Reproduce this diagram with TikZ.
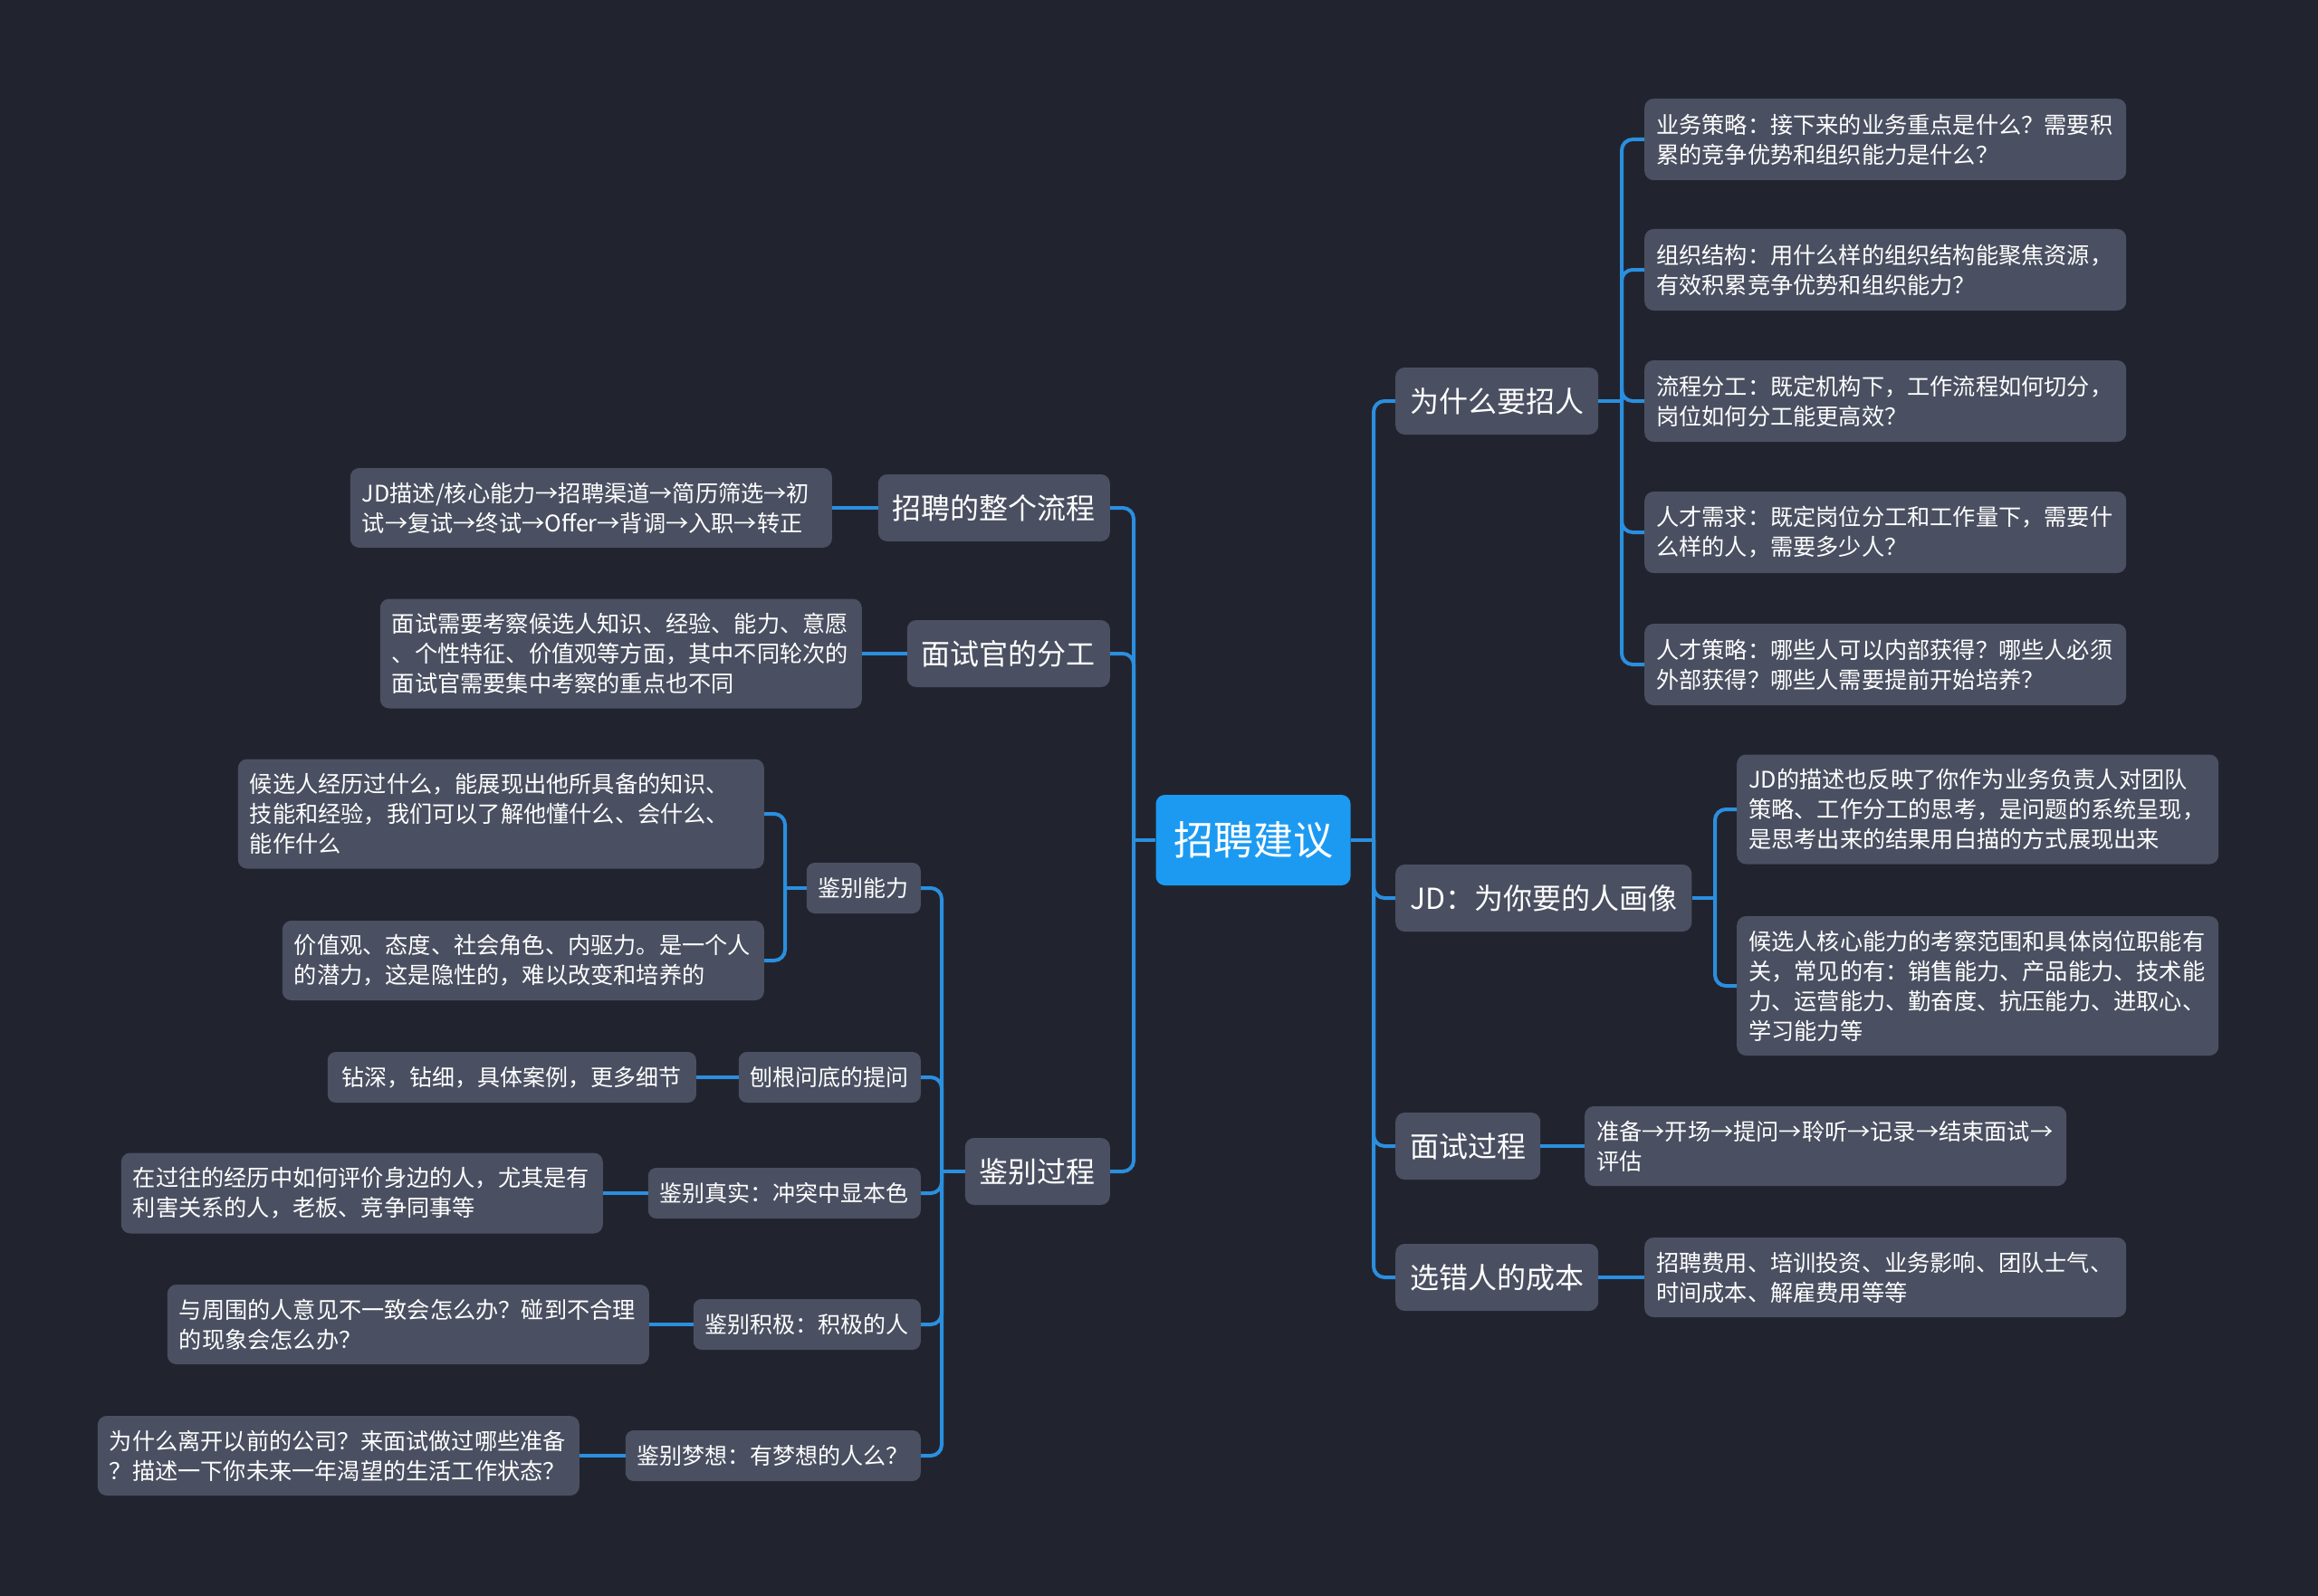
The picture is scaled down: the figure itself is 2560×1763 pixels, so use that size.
\documentclass[tikz,border=0pt]{standalone}
\usepackage{fontspec}
\setmainfont{Noto Sans CJK SC}
\usepackage{xcolor}

\definecolor{bgdark}{HTML}{21242F}
\definecolor{boxgray}{HTML}{4A5061}
\definecolor{linkblue}{HTML}{2B8FDF}
\definecolor{rootblue}{HTML}{1C9AF2}

\tikzset{
	rootbox/.style={fill=rootblue,text=white,rounded corners=10,minimum width=215,minimum height=100,inner ysep=0,font=\fontsize{44}{50}\selectfont},
	topic/.style={fill=boxgray,text=white,rounded corners=10,minimum height=74,inner xsep=16,inner ysep=0,font=\fontsize{32}{38}\selectfont},
	sub/.style={fill=boxgray,text=white,rounded corners=9,minimum height=56,inner xsep=13,inner ysep=0,font=\fontsize{25}{31}\selectfont},
	leaf/.style={fill=boxgray,text=white,rounded corners=10,inner xsep=13,inner ysep=0,align=left,text width=506,font=\fontsize{25.2}{33}\selectfont},
	link/.style={draw=linkblue,line width=4,rounded corners=12}
}

\begin{document}
\begin{tikzpicture}[x=1pt,y=-1pt]
	\fill[bgdark] (0,0) rectangle (2560,1763);
	
	\node[rootbox] (root) at (1384,928) {招聘建议};
	
	% right side
	\node[topic,anchor=west] (why) at (1541,443) {为什么要招人};
	\node[topic,anchor=west] (jd) at (1541,992) {JD：为你要的人画像};
	\node[topic,anchor=west] (proc) at (1541,1266) {面试过程};
	\node[topic,anchor=west] (cost) at (1541,1411) {选错人的成本};
	
	\node[leaf,anchor=west,minimum height=90] (why1) at (1816,154) {业务策略：接下来的业务重点是什么？需要积\\累的竞争优势和组织能力是什么？};
	\node[leaf,anchor=west,minimum height=90] (why2) at (1816,298) {组织结构：用什么样的组织结构能聚焦资源，\\有效积累竞争优势和组织能力？};
	\node[leaf,anchor=west,minimum height=90] (why3) at (1816,443) {流程分工：既定机构下，工作流程如何切分，\\岗位如何分工能更高效？};
	\node[leaf,anchor=west,minimum height=90] (why4) at (1816,588) {人才需求：既定岗位分工和工作量下，需要什\\么样的人，需要多少人？};
	\node[leaf,anchor=west,minimum height=90] (why5) at (1816,734) {人才策略：哪些人可以内部获得？哪些人必须\\外部获得？哪些人需要提前开始培养？};
	
	\node[leaf,anchor=west,minimum height=121] (jd1) at (1918,894) {JD的描述也反映了你作为业务负责人对团队\\策略、工作分工的思考，是问题的系统呈现，\\是思考出来的结果用白描的方式展现出来};
	\node[leaf,anchor=west,minimum height=154] (jd2) at (1918,1089) {候选人核心能力的考察范围和具体岗位职能有\\关，常见的有：销售能力、产品能力、技术能\\力、运营能力、勤奋度、抗压能力、进取心、\\学习能力等};
	
	\node[leaf,anchor=west,minimum height=88] (proc1) at (1750,1266) {准备→开场→提问→聆听→记录→结束面试→\\评估};
	\node[leaf,anchor=west,minimum height=88] (cost1) at (1816,1411) {招聘费用、培训投资、业务影响、团队士气、\\时间成本、解雇费用等等};
	
	% left side
	\node[topic,anchor=east] (flow) at (1226,561) {招聘的整个流程};
	\node[topic,anchor=east] (duty) at (1226,722) {面试官的分工};
	\node[topic,anchor=east] (judge) at (1226,1294) {鉴别过程};
	
	\node[leaf,anchor=east,minimum height=88] (flow1) at (919,561) {JD描述/核心能力→招聘渠道→简历筛选→初\\试→复试→终试→Offer→背调→入职→转正};
	\node[leaf,anchor=east,minimum height=121] (duty1) at (952,722) {面试需要考察候选人知识、经验、能力、意愿\\、个性特征、价值观等方面，其中不同轮次的\\面试官需要集中考察的重点也不同};
	
	\node[sub,anchor=east] (ability) at (1017,981) {鉴别能力};
	\node[sub,anchor=east] (dig) at (1017,1190) {刨根问底的提问};
	\node[sub,anchor=east] (real) at (1017,1318) {鉴别真实：冲突中显本色};
	\node[sub,anchor=east] (posi) at (1017,1463) {鉴别积极：积极的人};
	\node[sub,anchor=east] (dream) at (1017,1608) {鉴别梦想：有梦想的人么？};
	
	\node[leaf,anchor=east,text width=555,minimum height=121] (ability1) at (844,899) {候选人经历过什么，能展现出他所具备的知识、\\技能和经验，我们可以了解他懂什么、会什么、\\能作什么};
	\node[leaf,anchor=east,minimum height=88] (ability2) at (844,1061) {价值观、态度、社会角色、内驱力。是一个人\\的潜力，这是隐性的，难以改变和培养的};
	\node[sub,anchor=east,inner xsep=16] (dig1) at (769,1190) {钻深，钻细，具体案例，更多细节};
	\node[leaf,anchor=east,minimum height=89] (real1) at (666,1318) {在过往的经历中如何评价身边的人，尤其是有\\利害关系的人，老板、竞争同事等};
	\node[leaf,anchor=east,minimum height=88] (posi1) at (717,1463) {与周围的人意见不一致会怎么办？碰到不合理\\的现象会怎么办？};
	\node[leaf,anchor=east,minimum height=88] (dream1) at (640,1608) {为什么离开以前的公司？来面试做过哪些准备\\？描述一下你未来一年渴望的生活工作状态？};
	
	% trunks
	\coordinate (rR) at (1517,928);
	\coordinate (rL) at (1252,928);
	\coordinate (tWhy) at (1791,443);
	\coordinate (tJd) at (1894,992);
	\coordinate (tJudge) at (1040,1294);
	\coordinate (tAbility) at (867,981);
	
	\draw[link] (root.east) -- (rR);
	\draw[link] (rR) |- (why.west);
	\draw[link] (rR) |- (jd.west);
	\draw[link] (rR) |- (proc.west);
	\draw[link] (rR) |- (cost.west);
	
	\draw[link] (why.east) -- (tWhy);
	\draw[link] (tWhy) |- (why1.west);
	\draw[link] (tWhy) |- (why2.west);
	\draw[link] (tWhy) |- (why3.west);
	\draw[link] (tWhy) |- (why4.west);
	\draw[link] (tWhy) |- (why5.west);
	
	\draw[link] (jd.east) -- (tJd);
	\draw[link] (tJd) |- (jd1.west);
	\draw[link] (tJd) |- (jd2.west);
	
	\draw[link] (proc.east) -- (proc1.west);
	\draw[link] (cost.east) -- (cost1.west);
	
	\draw[link] (root.west) -- (rL);
	\draw[link] (rL) |- (flow.east);
	\draw[link] (rL) |- (duty.east);
	\draw[link] (rL) |- (judge.east);
	
	\draw[link] (flow.west) -- (flow1.east);
	\draw[link] (duty.west) -- (duty1.east);
	
	\draw[link] (judge.west) -- (tJudge);
	\draw[link] (tJudge) |- (ability.east);
	\draw[link] (tJudge) |- (dig.east);
	\draw[link] (tJudge) |- (real.east);
	\draw[link] (tJudge) |- (posi.east);
	\draw[link] (tJudge) |- (dream.east);
	
	\draw[link] (ability.west) -- (tAbility);
	\draw[link] (tAbility) |- (ability1.east);
	\draw[link] (tAbility) |- (ability2.east);
	
	\draw[link] (dig.west) -- (dig1.east);
	\draw[link] (real.west) -- (real1.east);
	\draw[link] (posi.west) -- (posi1.east);
	\draw[link] (dream.west) -- (dream1.east);
\end{tikzpicture}
\end{document}
